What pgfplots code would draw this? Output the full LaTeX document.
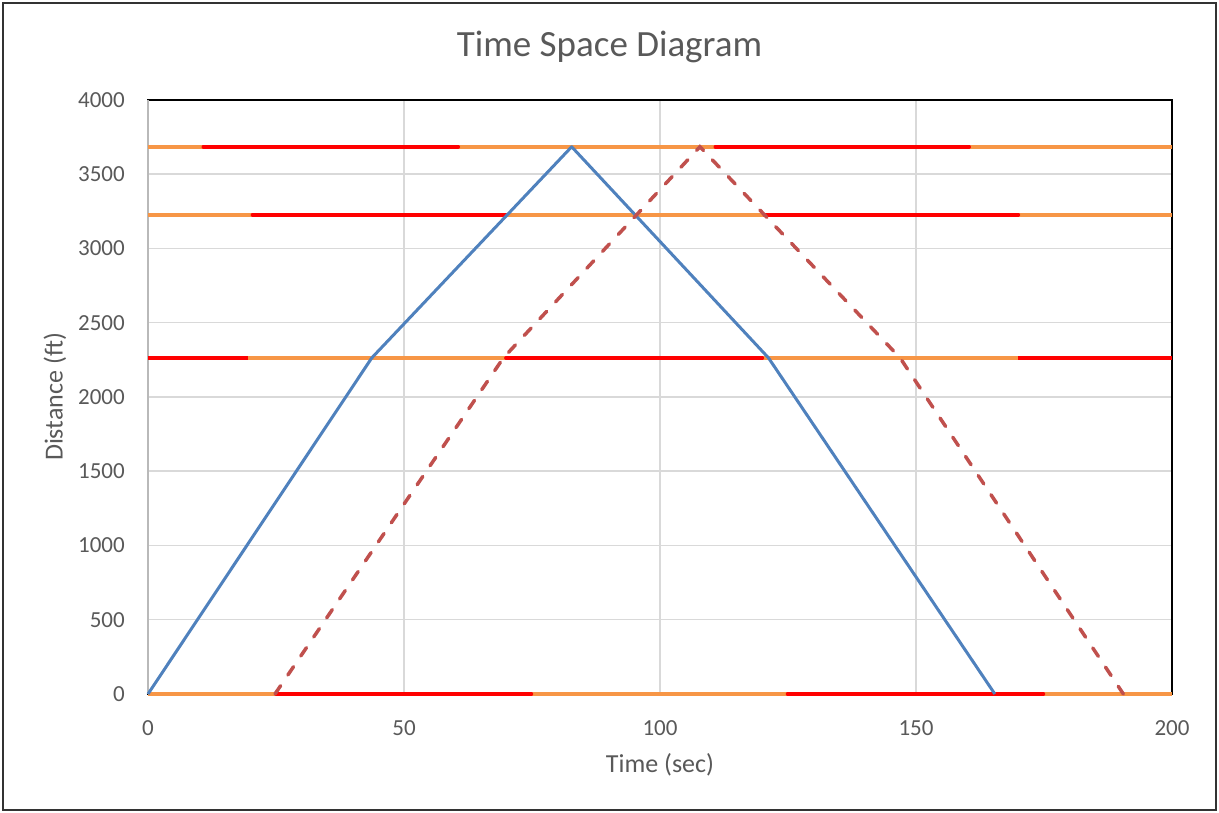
\documentclass[border=0pt]{standalone}
\usepackage{fontspec}
\setmainfont{Carlito}
\usepackage{pgfplots}
\pgfplotsset{compat=1.18}
\definecolor{txtgrey}{HTML}{595959}
\definecolor{gridgrey}{HTML}{D9D9D9}
\definecolor{sigorange}{HTML}{F79646}
\definecolor{sigred}{HTML}{FF0000}
\definecolor{xlblue}{HTML}{4F81BD}
\definecolor{xlred}{HTML}{C0504D}
\begin{document}
\begin{tikzpicture}
\useasboundingbox (-148pt,-119pt) rectangle (1071pt,694pt);
\draw[black!80, line width=1.5pt] (-145pt,-116pt) rectangle (1068pt,691pt);
\begin{axis}[
  at={(0pt,0pt)}, anchor=south west,
  scale only axis, width=1024pt, height=594pt,
  xmin=0, xmax=200, ymin=0, ymax=4000,
  xtick={0,50,...,200}, ytick={0,500,...,4000},
  major tick length=0pt,
  grid=major,
  grid style={gridgrey, line width=1.5pt},
  axis line style={black, line width=1.5pt},
  clip=false,
  /pgf/number format/assume math mode=true,
  /pgf/number format/set thousands separator={},
  tick label style={font=\fontsize{23}{23}\selectfont, text=txtgrey},
  xticklabel style={anchor=north, inner sep=0pt, yshift=-26pt},
  yticklabel style={anchor=east, inner sep=0pt, xshift=-23pt},
  xlabel={Time (sec)}, ylabel={Distance (ft)},
  every axis x label/.style={at={(rel axis cs:0.5,0)}, yshift=-71pt, anchor=center,
     font=\fontsize{26}{26}\selectfont, text=txtgrey},
  every axis y label/.style={at={(rel axis cs:0,0.5)}, xshift=-93pt, rotate=90, anchor=center,
     font=\fontsize{26}{26}\selectfont, text=txtgrey},
  unbounded coords=jump,
]
\draw[gray!55, line width=1.5pt] (rel axis cs:0,0) -- (rel axis cs:0,1);
% signal lines: orange background
\addplot[sigorange, line width=3.5pt, line cap=butt] coordinates {
  (0,3685) (200,3685) (nan,nan)
  (0,3227) (200,3227) (nan,nan)
  (0,2263) (200,2263) (nan,nan)
  (0,0) (200,0)};
% red phases
\addplot[sigred, line width=3.5pt, line cap=round] coordinates {
  (10.8,3685) (60.6,3685) (nan,nan) (110.8,3685) (160.4,3685) (nan,nan)
  (20.4,3227) (70,3227) (nan,nan) (120.4,3227) (170,3227) (nan,nan)};
\addplot[sigred, line width=3.5pt, line cap=butt] coordinates {
  (0,2263) (19.6,2263) (nan,nan)};
\addplot[sigred, line width=3.5pt, line cap=round] coordinates {
  (69.9,2263) (120,2263) (nan,nan)};
\addplot[sigred, line width=3.5pt, line cap=butt] coordinates {
  (170,2263) (200,2263) (nan,nan)};
\addplot[sigred, line width=3.5pt, line cap=round] coordinates {
  (25,0) (74.9,0) (nan,nan) (124.9,0) (174.9,0)};
% vehicle trajectories
\addplot[xlblue, line width=3pt, line join=round] coordinates {
  (0,0) (43.7,2263) (82.75,3685) (121.2,2263) (165.4,0)};
\addplot[xlred, line width=3.5pt, line cap=round, dash pattern=on 10pt off 13pt] coordinates {
  (24.8,0) (69.4,2263) (107.8,3685) (146.9,2263) (190.5,0)};
\end{axis}
\node[font=\fontsize{37}{37}\selectfont, text=txtgrey] at (461.5pt,647pt) {Time Space Diagram};
\end{tikzpicture}
\end{document}
